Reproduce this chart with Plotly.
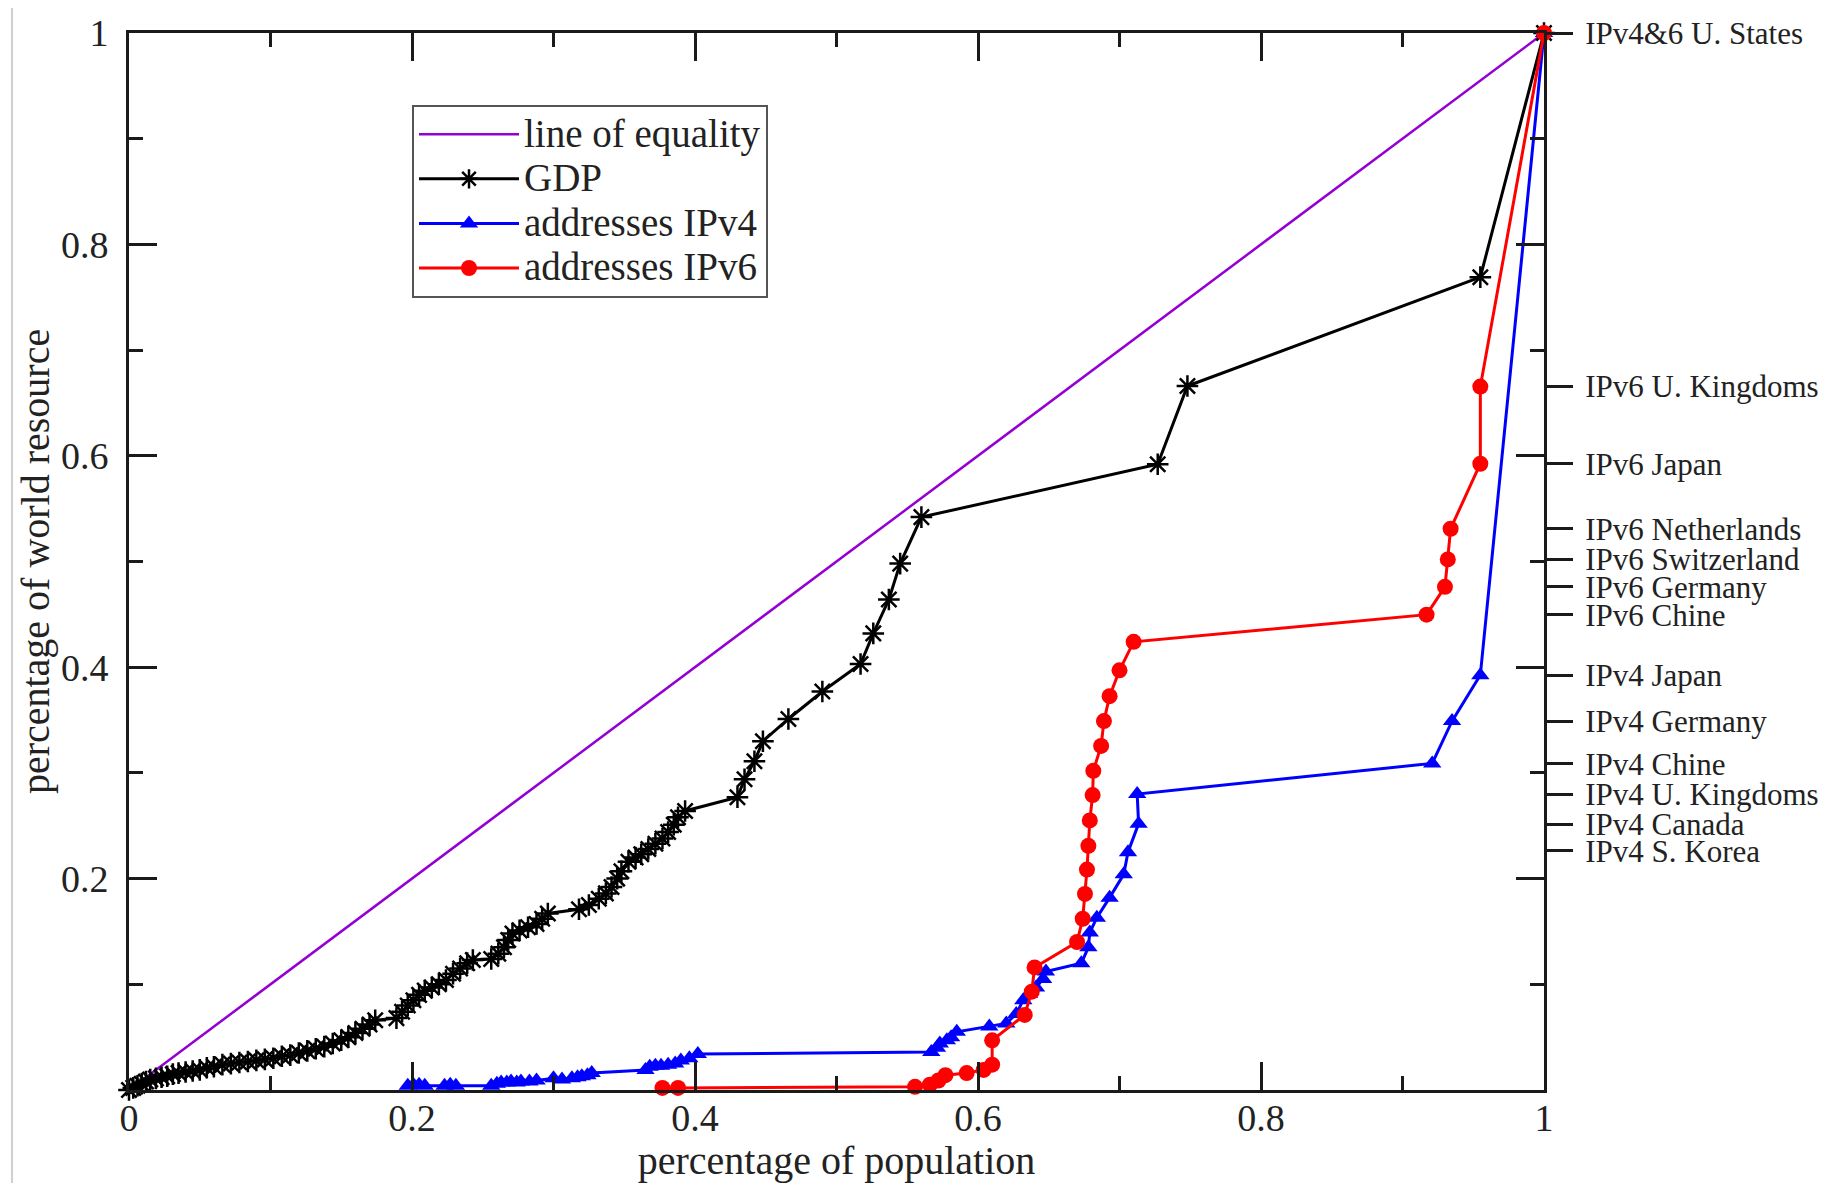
import plotly.graph_objects as go

# ---------------- data ----------------
equality_x = [0.0, 1.0]
equality_y = [0.0, 1.0]

gdp_x = [0.000, 0.003, 0.006, 0.009, 0.012, 0.015, 0.019, 0.023, 0.027, 0.031,
         0.035, 0.040, 0.045, 0.050, 0.055, 0.060, 0.066, 0.072, 0.078, 0.084,
         0.090, 0.096, 0.102, 0.108, 0.114, 0.120, 0.126, 0.132, 0.138, 0.144,
         0.150, 0.155, 0.160, 0.165, 0.170, 0.174, 0.189, 0.193, 0.197, 0.201,
         0.205, 0.209, 0.214, 0.219, 0.224, 0.229, 0.234, 0.239, 0.243, 0.256,
         0.261, 0.265, 0.268, 0.271, 0.276, 0.282, 0.288, 0.292, 0.296, 0.318,
         0.325, 0.332, 0.337, 0.341, 0.345, 0.348, 0.353, 0.358, 0.362, 0.367,
         0.372, 0.377, 0.381, 0.385, 0.388, 0.393, 0.430, 0.435, 0.442, 0.448,
         0.466, 0.490, 0.517, 0.526, 0.537, 0.545, 0.560, 0.727, 0.748, 0.955,
         1.000]
gdp_y = [0.000, 0.002, 0.004, 0.006, 0.008, 0.010, 0.011, 0.012, 0.013, 0.015,
         0.016, 0.017, 0.018, 0.019, 0.021, 0.022, 0.024, 0.025, 0.026, 0.027,
         0.028, 0.029, 0.030, 0.032, 0.033, 0.035, 0.037, 0.039, 0.041, 0.044,
         0.047, 0.050, 0.054, 0.058, 0.062, 0.066, 0.068, 0.074, 0.080, 0.085,
         0.090, 0.094, 0.097, 0.100, 0.104, 0.110, 0.115, 0.120, 0.123, 0.124,
         0.129, 0.135, 0.142, 0.148, 0.151, 0.154, 0.157, 0.162, 0.167, 0.171,
         0.175, 0.181, 0.186, 0.192, 0.200, 0.207, 0.216, 0.220, 0.223, 0.228,
         0.233, 0.238, 0.244, 0.251, 0.258, 0.264, 0.277, 0.294, 0.311, 0.330,
         0.351, 0.377, 0.403, 0.432, 0.464, 0.498, 0.542, 0.592, 0.666, 0.769,
         1.000]

ipv4_x = [0.197, 0.201, 0.205, 0.209, 0.223, 0.227, 0.231, 0.256, 0.260, 0.263,
          0.267, 0.270, 0.274, 0.277, 0.283, 0.288, 0.300, 0.306, 0.313, 0.317,
          0.320, 0.324, 0.327, 0.365, 0.368, 0.372, 0.376, 0.381, 0.386, 0.390,
          0.396, 0.402, 0.567, 0.571, 0.573, 0.578, 0.581, 0.585, 0.608, 0.620,
          0.627, 0.632, 0.636, 0.641, 0.646, 0.648, 0.673, 0.678, 0.679, 0.684,
          0.693, 0.703, 0.706, 0.7135, 0.7125, 0.921, 0.935, 0.955, 1.000]
ipv4_y = [0.004, 0.005, 0.005, 0.004, 0.004, 0.005, 0.004, 0.004, 0.006, 0.007,
          0.007, 0.008, 0.007, 0.008, 0.008, 0.009, 0.011, 0.010, 0.011, 0.012,
          0.013, 0.014, 0.016, 0.019, 0.022, 0.023, 0.023, 0.024, 0.025, 0.028,
          0.030, 0.034, 0.036, 0.040, 0.044, 0.047, 0.050, 0.055, 0.060, 0.063,
          0.072, 0.085, 0.091, 0.097, 0.105, 0.112, 0.120, 0.135, 0.149, 0.163,
          0.182, 0.204, 0.225, 0.252, 0.280, 0.309, 0.349, 0.3925, 1.000]

ipv6_x = [0.377, 0.388, 0.5555, 0.566, 0.572, 0.577, 0.592, 0.604, 0.610, 0.610,
          0.633, 0.638, 0.640, 0.670, 0.674, 0.6756, 0.677, 0.678, 0.679, 0.681,
          0.6815, 0.687, 0.689, 0.693, 0.700, 0.710, 0.917, 0.930, 0.932, 0.934,
          0.955, 0.955, 1.000]
ipv6_y = [0.002, 0.002, 0.003, 0.005, 0.009, 0.014, 0.016, 0.019, 0.024, 0.047,
          0.071, 0.093, 0.116, 0.140, 0.162, 0.1855, 0.2085, 0.231, 0.255, 0.279,
          0.302, 0.3255, 0.349, 0.3726, 0.397, 0.424, 0.4497, 0.476, 0.502, 0.531,
          0.5925, 0.6655, 1.000]

series_names = ["line of equality", "GDP", "addresses IPv4", "addresses IPv6"]

left_tick_vals = [0.2, 0.4, 0.6, 0.8, 1.0]
left_tick_text = ["0.2", "0.4", "0.6", "0.8", "1"]
bottom_tick_vals = [0.0, 0.2, 0.4, 0.6, 0.8, 1.0]
bottom_tick_text = ["0", "0.2", "0.4", "0.6", "0.8", "1"]

right_label_vals = [1.0, 0.6655, 0.5925, 0.531, 0.502, 0.476, 0.4497,
                    0.3925, 0.349, 0.3087, 0.280, 0.2516, 0.2264]
right_label_text = ["IPv4&6 U. States", "IPv6 U. Kingdoms", "IPv6 Japan",
                    "IPv6 Netherlands", "IPv6 Switzerland", "IPv6 Germany",
                    "IPv6 Chine", "IPv4 Japan", "IPv4 Germany", "IPv4 Chine",
                    "IPv4 U. Kingdoms", "IPv4 Canada", "IPv4 S. Korea"]

x_title = "percentage of population"
y_title = "percentage of world resource"

# ---------------- figure ----------------
FONT = "Liberation Serif, Times New Roman, serif"
VIOLET = "rgb(148,0,211)"
AX = "#1a1a1a"


def lname(s):
    return '<span style="font-size:39px">' + s + '</span>'


fig = go.Figure()

fig.add_trace(go.Scatter(x=equality_x, y=equality_y, mode="lines",
                         name=lname(series_names[0]),
                         line=dict(color=VIOLET, width=2.5)))
fig.add_trace(go.Scatter(x=gdp_x, y=gdp_y, mode="lines+markers",
                         name=lname(series_names[1]),
                         line=dict(color="black", width=3),
                         marker=dict(symbol="asterisk-open", size=18,
                                     line=dict(color="black", width=2.5)),
                         cliponaxis=False))
fig.add_trace(go.Scatter(x=ipv4_x, y=ipv4_y, mode="lines+markers",
                         name=lname(series_names[2]),
                         line=dict(color="rgb(0,0,255)", width=3),
                         marker=dict(symbol="triangle-up", size=16,
                                     color="rgb(0,0,255)"),
                         cliponaxis=False))
fig.add_trace(go.Scatter(x=ipv6_x, y=ipv6_y, mode="lines+markers",
                         name=lname(series_names[3]),
                         line=dict(color="rgb(255,0,0)", width=3),
                         marker=dict(symbol="circle", size=16,
                                     color="rgb(255,0,0)"),
                         cliponaxis=False))
# invisible carrier for the right-hand labelled axis
fig.add_trace(go.Scatter(x=[1.0] * len(right_label_vals), y=right_label_vals,
                         yaxis="y2", mode="markers", showlegend=False,
                         hoverinfo="skip", marker=dict(opacity=0)))

axis_common = dict(
    range=[0, 1], showgrid=False, zeroline=False, automargin=False,
    showline=True, linecolor=AX, linewidth=3, mirror="ticks",
    ticks="inside", ticklen=28, tickwidth=3, tickcolor=AX,
    minor=dict(ticks="inside", ticklen=14, tickwidth=3, tickcolor=AX,
               dtick=0.1, tick0=0, showgrid=False),
    tickfont=dict(family=FONT, size=38, color="#222"),
)

fig.update_layout(
    width=1830, height=1175,
    margin=dict(l=121, r=294, t=25, b=93, pad=0, autoexpand=False),
    paper_bgcolor="white", plot_bgcolor="white",
    font=dict(family=FONT, color="#222"),
    xaxis=dict(**axis_common, tickmode="array", tickvals=bottom_tick_vals,
               ticktext=bottom_tick_text, ticklabelstandoff=-8,
               title=dict(text=x_title,
                          font=dict(family=FONT, size=40, color="#222"),
                          standoff=4)),
    yaxis=dict(**axis_common, tickmode="array", tickvals=left_tick_vals,
               ticktext=left_tick_text, ticklabelstandoff=10),
    yaxis2=dict(range=[0, 1], overlaying="y", side="right", anchor="x",
                showgrid=False, zeroline=False, showline=False,
                automargin=False,
                tickmode="array", tickvals=right_label_vals,
                ticktext=right_label_text, ticks="outside", ticklen=28,
                tickwidth=3, tickcolor=AX, ticklabelstandoff=6,
                tickfont=dict(family=FONT, size=31, color="#222")),
    legend=dict(x=0.2, y=0.932, xanchor="left", yanchor="top",
                bgcolor="white", bordercolor="#555", borderwidth=2,
                font=dict(family=FONT, size=32, color="#222"),
                itemwidth=100, tracegroupgap=0),
    showlegend=True,
    annotations=[dict(text=y_title, xref="paper", yref="paper",
                      x=-0.066, y=0.5, xanchor="center", yanchor="middle",
                      textangle=-90, showarrow=False,
                      font=dict(family=FONT, size=40, color="#222"))],
    shapes=[dict(type="line", xref="paper", yref="paper",
                 x0=-0.0827, x1=-0.0827, y0=-0.09, y1=1.03,
                 line=dict(color="#cfcfcf", width=2))],
)

fig.write_html("out.html")
